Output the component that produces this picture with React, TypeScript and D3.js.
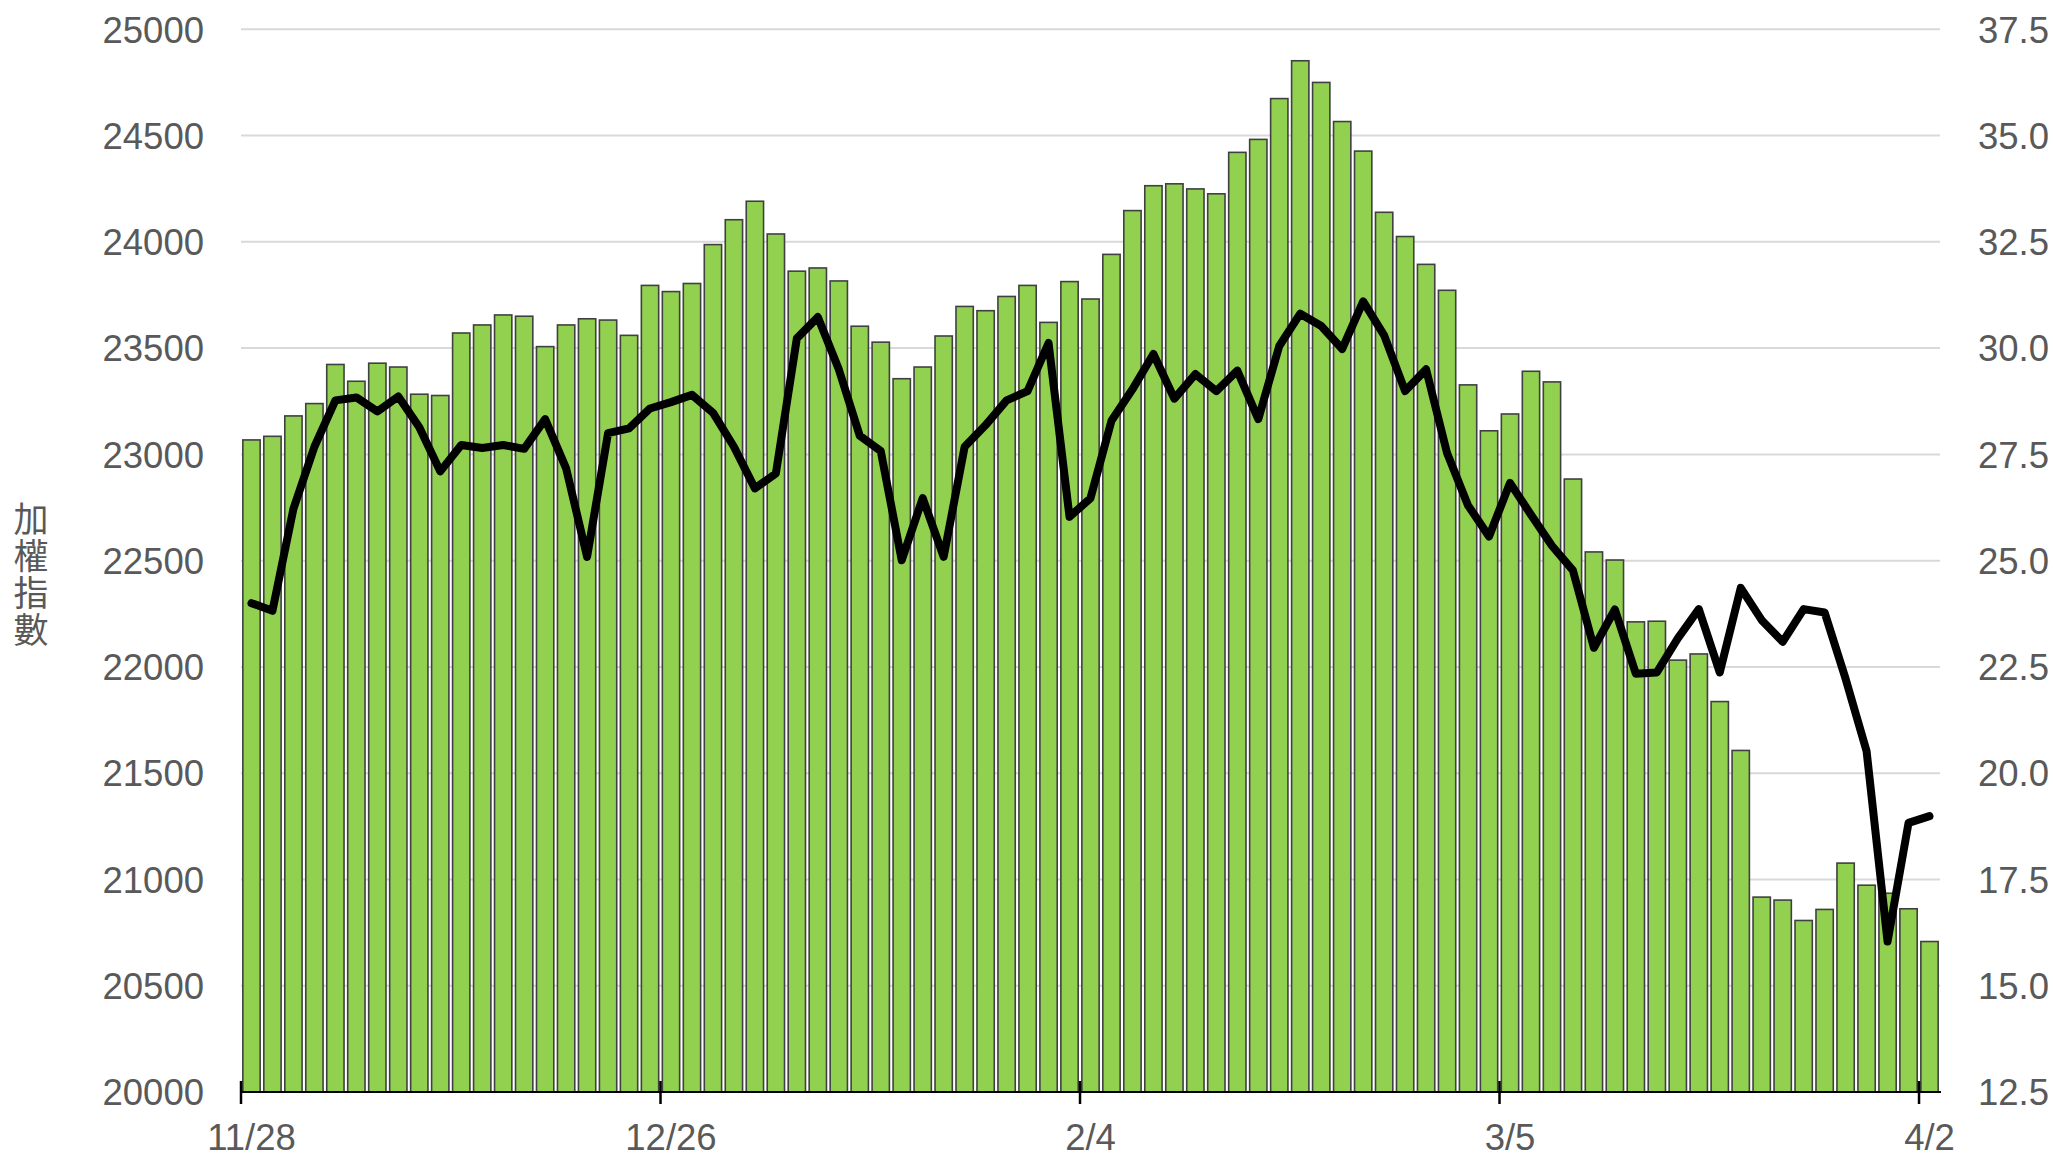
import React from "react";
import * as d3 from "d3";

const dates: string[] = [
  "11/28", "11/29",
  "12/2", "12/3", "12/4", "12/5", "12/6", "12/9", "12/10", "12/11", "12/12", "12/13",
  "12/16", "12/17", "12/18", "12/19", "12/20", "12/23", "12/24", "12/25", "12/26", "12/27",
  "12/30", "12/31",
  "1/2", "1/3", "1/6", "1/7", "1/8", "1/9", "1/10", "1/13", "1/14", "1/15", "1/16", "1/17",
  "1/20", "1/21", "1/22",
  "2/3", "2/4", "2/5", "2/6", "2/7", "2/10", "2/11", "2/12", "2/13", "2/14",
  "2/17", "2/18", "2/19", "2/20", "2/21", "2/24", "2/25", "2/26", "2/27",
  "3/3", "3/4", "3/5", "3/6", "3/7", "3/10", "3/11", "3/12", "3/13", "3/14",
  "3/17", "3/18", "3/19", "3/20", "3/21", "3/24", "3/25", "3/26", "3/27", "3/28", "3/31",
  "4/1", "4/2",
];

// 加權指數 (left axis, bars)
const indexValues: number[] = [
  23068, 23085, 23181, 23239, 23423, 23344, 23429, 23411, 23283, 23277,
  23571, 23609, 23656, 23650, 23507, 23609, 23638, 23632, 23560, 23795,
  23766, 23804, 23987, 24104, 24191, 24037, 23862, 23877, 23816, 23603,
  23528, 23356, 23411, 23557, 23696, 23676, 23743, 23795, 23621, 23813,
  23731, 23941, 24147, 24264, 24273, 24249, 24226, 24421, 24482, 24674,
  24852, 24750, 24566, 24427, 24139, 24025, 23894, 23772, 23327, 23111,
  23190, 23391, 23341, 22884, 22541, 22503, 22212, 22215, 22032, 22061,
  21837, 21607, 20917, 20903, 20807, 20859, 21077, 20973, 20935, 20862,
  20708,
];

// right axis series (line)
const lineValues: number[] = [
  24.0, 23.82, 26.22, 27.68, 28.77, 28.84, 28.51, 28.86, 28.14, 27.1,
  27.72, 27.65, 27.72, 27.63, 28.33, 27.17, 25.09, 28.0, 28.11, 28.58,
  28.73, 28.9, 28.48, 27.68, 26.7, 27.05, 30.23, 30.73, 29.5, 27.94,
  27.58, 25.01, 26.47, 25.09, 27.68, 28.19, 28.77, 28.99, 30.12, 26.03,
  26.47, 28.29, 29.03, 29.86, 28.81, 29.39, 28.99, 29.47, 28.33, 30.05,
  30.81, 30.52, 29.98, 31.1, 30.3, 28.99, 29.5, 27.53, 26.3, 25.57,
  26.83, 26.08, 25.35, 24.77, 22.95, 23.85, 22.34, 22.37, 23.17, 23.86,
  22.37, 24.36, 23.6, 23.09, 23.86, 23.78, 22.22, 20.52, 16.04, 18.83,
  18.99,
];

const tickDates: string[] = ["11/28", "12/26", "2/4", "3/5", "4/2"];
const leftTicks: number[] = [20000, 20500, 21000, 21500, 22000, 22500, 23000, 23500, 24000, 24500, 25000];
const rightTicks: number[] = [12.5, 15, 17.5, 20, 22.5, 25, 27.5, 30, 32.5, 35, 37.5];
const yTitle = "加權指數";

const W = 2053;
const H = 1158;
const L = 241;
const R = 1940;
const T = 29.3;
const B = 1092;
const FONT = "'Liberation Sans', Arial, sans-serif";
const TEXT = "#595959";

export default function App() {
  const x = d3
    .scaleBand<number>()
    .domain(dates.map((_, i) => i))
    .range([L, R])
    .paddingInner(0.175)
    .paddingOuter(0.0875);
  const step = x.step();
  const bw = x.bandwidth();
  const yL = d3.scaleLinear().domain([20000, 25000]).range([B, T]);
  const yR = d3.scaleLinear().domain([12.5, 37.5]).range([B, T]);

  const line = d3
    .line<number>()
    .x((_, i) => (x(i) as number) + bw / 2)
    .y((d) => yR(d));

  const tickIdx = tickDates.map((d) => dates.indexOf(d));

  return (
    <svg
      width={W}
      height={H}
      style={{ position: "absolute", left: 0, top: 0, display: "block", background: "#fff" }}
    >
      <rect x={0} y={0} width={W} height={H} fill="#fff" />
      {leftTicks.slice(1).map((t) => (
        <line key={t} x1={L} x2={R} y1={yL(t)} y2={yL(t)} stroke="#d9d9d9" strokeWidth={2} />
      ))}
      {indexValues.map((v, i) => (
        <rect
          key={i}
          x={x(i)}
          y={yL(v)}
          width={bw}
          height={B - yL(v)}
          fill="#92d050"
          stroke="#404040"
          strokeWidth={1.6}
        />
      ))}
      <line x1={L} x2={R + 1} y1={B} y2={B} stroke="#000" strokeWidth={2} />
      {tickIdx.map((i) => {
        const tx = (x(i) as number) - (step - bw) / 2;
        return <line key={i} x1={tx} x2={tx} y1={B - 11} y2={B + 12} stroke="#000" strokeWidth={2.5} />;
      })}
      <path
        d={line(lineValues) || ""}
        fill="none"
        stroke="#000"
        strokeWidth={8}
        strokeLinejoin="round"
        strokeLinecap="round"
      />
      {leftTicks.map((t) => (
        <text key={t} x={204} y={yL(t) + 13.3} textAnchor="end" fontFamily={FONT} fontSize={36.5} fill={TEXT}>
          {t}
        </text>
      ))}
      {rightTicks.map((t) => (
        <text key={t} x={1978} y={yR(t) + 13.3} textAnchor="start" fontFamily={FONT} fontSize={36.5} fill={TEXT}>
          {t.toFixed(1)}
        </text>
      ))}
      {tickIdx.map((i) => (
        <text
          key={i}
          x={(x(i) as number) + bw / 2}
          y={1150}
          textAnchor="middle"
          fontFamily={FONT}
          fontSize={36.5}
          fill={TEXT}
        >
          {dates[i]}
        </text>
      ))}
      <text
        x={31}
        y={501}
        fontFamily="'Noto Sans CJK TC', 'Noto Sans CJK SC', sans-serif"
        fontSize={35}
        fill={TEXT}
        letterSpacing={2}
        style={{ writingMode: "vertical-rl", textOrientation: "upright" } as React.CSSProperties}
      >
        {yTitle}
      </text>
    </svg>
  );
}
